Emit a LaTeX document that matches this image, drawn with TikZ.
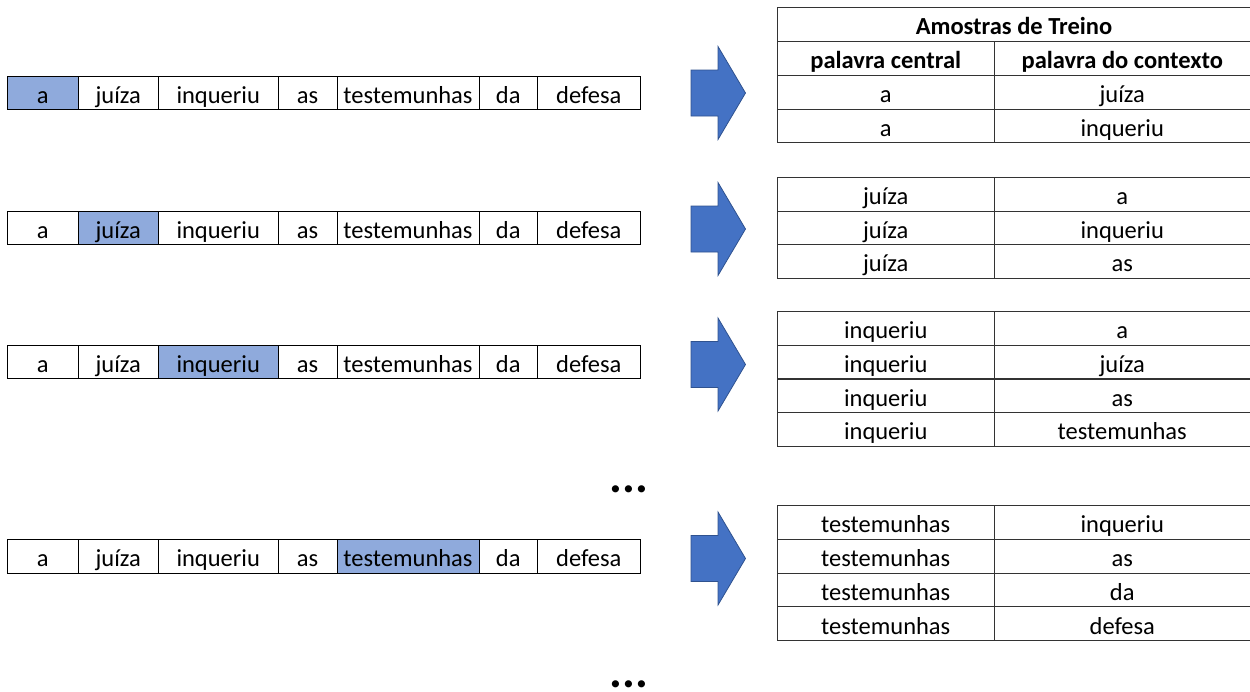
\documentclass[tikz,border=0pt]{standalone}
\usepackage{fontspec}
\setmainfont{Carlito}
\definecolor{hlblue}{HTML}{8FAADC}
\definecolor{arrowblue}{HTML}{4472C4}
\definecolor{arrowedge}{HTML}{2F528F}
\begin{document}
\begin{tikzpicture}[x=1pt,y=-1pt,
  txt/.style={inner sep=0pt, text height=20.6pt, text depth=0pt,
    font=\fontsize{24.5}{29}\selectfont},
  wordcell/.style={txt, draw=black, line width=0.9pt, minimum height=33.7pt},
  hl/.style={fill=hlblue},
  tabcell/.style={txt, draw=black!80, line width=0.9pt, minimum height=33.7pt},
  lcol/.style={tabcell, minimum width=216.5pt},
  rcol/.style={tabcell, minimum width=256.5pt},
  span/.style={tabcell, minimum width=473pt},
  dots/.style={inner sep=0pt, text depth=0pt, font=\fontsize{48}{56}\bfseries\selectfont},
  blockarrow/.pic={
    \fill[arrowblue, draw=arrowedge, line width=0.8pt]
      (-27,-23) -- (0,-23) -- (0,-46.5) -- (27.5,0) -- (0,46.5)
      -- (0,23) -- (-27,23) -- cycle;}
]
\useasboundingbox (0,0) rectangle (1250,691);

% sentence rows: row number / top edge / highlighted word
\foreach \r/\top/\h in {1/76/1, 2/211/2, 3/345/3, 4/539.5/5}{
  \foreach \w/\l/\rr [count=\i] in {a/7.5/78, juíza/78/158.5,
      inqueriu/158.5/278, as/278/337, testemunhas/337/479,
      da/479/537.5, defesa/537.5/640}{
    \pgfmathsetmacro{\cx}{(\l+\rr)/2}
    \pgfmathsetmacro{\cw}{\rr-\l}
    \pgfmathsetmacro{\cy}{\top+16.85}
    \ifnum\i=\h
      \node[wordcell, hl, minimum width=\cw pt] (s\r-\i) at (\cx,\cy) {\w};
    \else
      \node[wordcell, minimum width=\cw pt] (s\r-\i) at (\cx,\cy) {\w};
    \fi
  }
}

% block arrows
\pic (a1) at (718,93) {blockarrow};
\pic (a2) at (718,229) {blockarrow};
\pic (a3) at (718,364.5) {blockarrow};
\pic (a4) at (718,558.5) {blockarrow};

% table 1 with header
\node[span] (t1h) at (1014,24.35) {\bfseries Amostras de Treino};
\node[lcol] (t1l0) at (885.75,58.25) {\bfseries palavra central};
\node[rcol] (t1r0) at (1122.25,58.25) {\bfseries palavra do contexto};
\foreach \c/\x [count=\i] in {a/juíza, a/inqueriu}{
  \pgfmathsetmacro{\cy}{58.25+33.9*\i}
  \node[lcol] (t1l\i) at (885.75,\cy) {\c};
  \node[rcol] (t1r\i) at (1122.25,\cy) {\x};
}

% table 2
\foreach \c/\x [count=\i] in {juíza/a, juíza/inqueriu, juíza/as}{
  \pgfmathsetmacro{\cy}{177.3+33.7*\i-16.85}
  \node[lcol] (t2l\i) at (885.75,\cy) {\c};
  \node[rcol] (t2r\i) at (1122.25,\cy) {\x};
}

% table 3
\foreach \c/\x [count=\i] in {inqueriu/a, inqueriu/juíza, inqueriu/as,
    inqueriu/testemunhas}{
  \pgfmathsetmacro{\cy}{311.7+33.6*\i-16.8}
  \node[lcol] (t3l\i) at (885.75,\cy) {\c};
  \node[rcol] (t3r\i) at (1122.25,\cy) {\x};
}

% table 4
\foreach \c/\x [count=\i] in {testemunhas/inqueriu, testemunhas/as,
    testemunhas/da, testemunhas/defesa}{
  \pgfmathsetmacro{\cy}{505.8+33.7*\i-16.85}
  \node[lcol] (t4l\i) at (885.75,\cy) {\c};
  \node[rcol] (t4r\i) at (1122.25,\cy) {\x};
}

% ellipses
\node[dots, anchor=base] (d1) at (629,492.5) {...};
\node[dots, anchor=base] (d2) at (629,687.7) {...};
\end{tikzpicture}
\end{document}
